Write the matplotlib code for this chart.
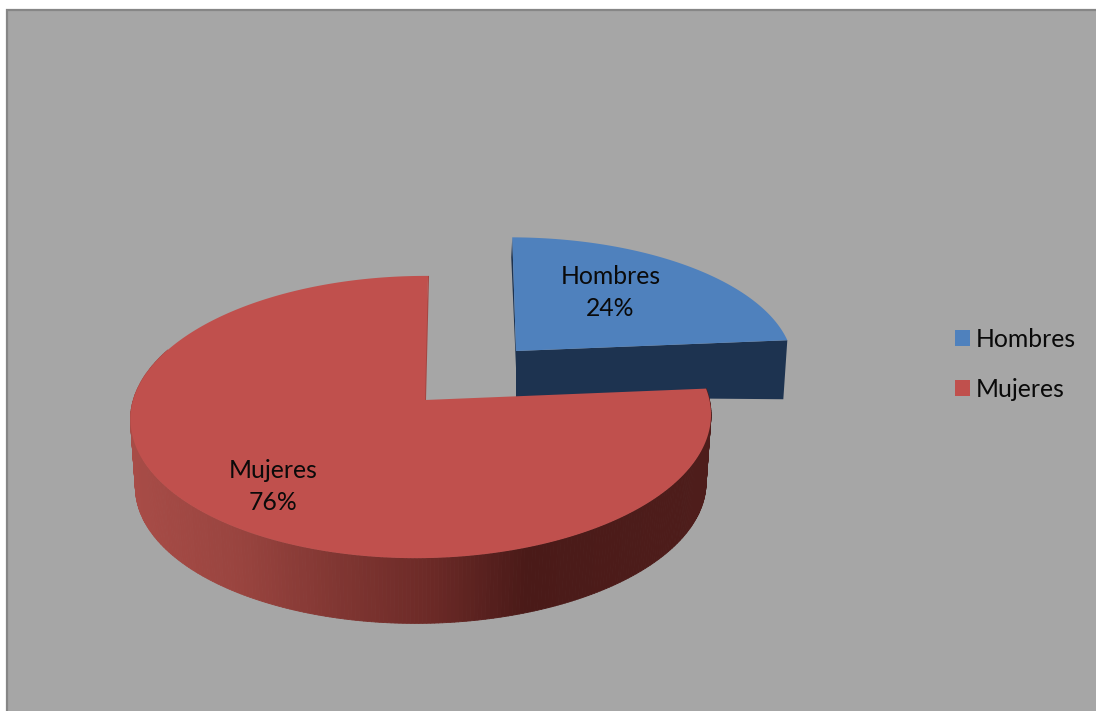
import numpy as np
import matplotlib
matplotlib.use("Agg")
import matplotlib.pyplot as plt
from matplotlib.patches import Patch, Rectangle
from matplotlib.collections import PolyCollection
from matplotlib.colors import LinearSegmentedColormap, Normalize

categories = ["Hombres", "Mujeres"]
values = [24, 76]
labels = ["Hombres\n24%", "Mujeres\n76%"]
top_colors = ["#4f81bd", "#c0504d"]
wall_color = "#1d3350"
strip_colors = ["#1d3350", "#a54541"]

W, H = 1096, 711
BG = "#a6a6a6"
plt.rcParams["font.family"] = ["Lato", "DejaVu Sans"]

fig = plt.figure(figsize=(W / 100, H / 100), dpi=100, facecolor="white")
ax = fig.add_axes([0, 0, 1, 1])
ax.set_xlim(0, W)
ax.set_ylim(H, 0)
ax.axis("off")

ax.add_patch(Rectangle((7, 10), W, H, facecolor=BG, edgecolor="#868686", linewidth=1.6, zorder=0))

ROT = -0.5
K = 0.149


def project(theta, c, a, b, s, drop=0.0, scale=1.0):
    """theta: clockwise from 12 o'clock, degrees; perspective disc to screen."""
    t = np.radians(np.asarray(theta, dtype=float) - ROT)
    u, v = np.sin(t), np.cos(t)
    d = 1 + K * v
    return (c[0] + scale * (b * u + s * v) / d,
            c[1] + drop - scale * a * v / d)


def top_face(t0, t1, apex, c, a, b, s):
    th = np.linspace(t0, t1, 240)
    x, y = project(th, c, a, b, s)
    return np.r_[apex[0], x], np.r_[apex[1], y]


edges = np.cumsum([0] + values) / np.sum(values) * 360

# Hombres slice, pulled out
ap_h, c_h, a_h, b_h, s_h = (516, 351), (511, 347), 126, 279, -1
x1, y1 = project(edges[0], c_h, a_h, b_h, s_h)
x2, y2 = project(edges[1], c_h, a_h, b_h, s_h)
ax.fill([ap_h[0], x2, x2 - 4, ap_h[0]], [ap_h[1], y2, y2 + 59, ap_h[1] + 46],
        color=wall_color, lw=0, zorder=2)
ax.fill([x1, ap_h[0], ap_h[0] + 1, x1 - 1], [y1, ap_h[1], ap_h[1] + 40, y1 + 20],
        color=strip_colors[0], lw=0, zorder=2)
xh, yh = top_face(edges[0], edges[1], ap_h, c_h, a_h, b_h, s_h)
ax.fill(xh, yh, color=top_colors[0], lw=0, zorder=3)

# Mujeres slice
ap_m, c_m, a_m, b_m, s_m = (425, 400), (421.5, 396), 138, 287, 5
th = np.linspace(edges[1], edges[2], 400)
xt, yt = project(th, c_m, a_m, b_m, s_m)
xb, yb = project(th, c_m, a_m, b_m, s_m, drop=68, scale=0.983)
quads = [np.array([[xt[i], yt[i]], [xt[i + 1], yt[i + 1]], [xb[i + 1], yb[i + 1]], [xb[i], yb[i]]])
         for i in range(len(th) - 1) if th[i] < 290]
mid_x = [q[:, 0].mean() for q in quads]
wall_stops = [(130, "#a84c47"), (240, "#99443f"), (330, "#823733"), (430, "#6c2a27"),
              (525, "#4a1a18"), (712, "#4e1d1b")]
norm = Normalize(130, 712)
cmap = LinearSegmentedColormap.from_list(
    "wall", [(norm(p), c) for p, c in wall_stops])
wall = PolyCollection(quads, array=np.array(mid_x), cmap=cmap, norm=norm,
                      edgecolors="face", linewidths=0.6, zorder=4)
ax.add_collection(wall)
xs, ys = project(edges[2], c_m, a_m, b_m, s_m)
ax.fill([xs, xs + 1, ap_m[0] + 1, ap_m[0] - 2], [ys, ys, ap_m[1], ap_m[1]],
        color=strip_colors[1], lw=0, zorder=5)
xm, ym = top_face(edges[1], edges[2], ap_m, c_m, a_m, b_m, s_m)
ax.fill(xm, ym, color=top_colors[1], lw=0, zorder=6)

FS = 17.8
for (cx, cy), lab in zip([(610.5, 292.5), (273.5, 486.5)], labels):
    ax.text(cx, cy, lab, ha="center", va="center", fontsize=FS, color="#0a0a0a",
            linespacing=1.5, zorder=8)

handles = [Patch(facecolor=c, edgecolor="none", label=n) for c, n in zip(top_colors, categories)]
ax.legend(handles=handles, loc="upper left", bbox_to_anchor=(955, 328),
          bbox_transform=ax.transData, frameon=False, fontsize=FS, borderpad=0, borderaxespad=0,
          handlelength=0.61, handleheight=0.61, handletextpad=0.22, labelspacing=1.08,
          labelcolor="#0a0a0a")

fig.savefig("out.png", dpi=100, facecolor="white")
